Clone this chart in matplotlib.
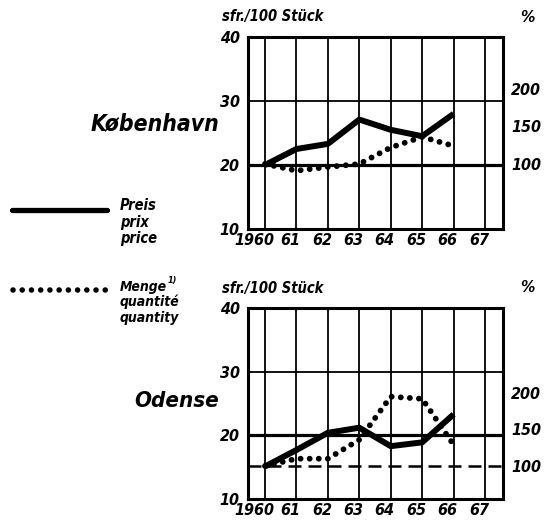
import matplotlib
matplotlib.use("Agg")
import matplotlib.pyplot as plt
from matplotlib.lines import Line2D
from matplotlib.transforms import ScaledTranslation

years = [1960, 1961, 1962, 1963, 1964, 1965, 1966]
grid_years = [1960, 1961, 1962, 1963, 1964, 1965, 1966, 1967]
year_labels = ["1960", "61", "62", "63", "64", "65", "66", "67"]
left_ticks = [10, 20, 30, 40]
right_ticks = [100, 150, 200]

kbh_price = [20.0, 22.5, 23.3, 27.1, 25.5, 24.5, 28.0]
kbh_qty = [100, 91, 96, 100, 122, 136, 124]
ode_price = [15.1, 17.7, 20.4, 21.2, 18.3, 18.9, 23.3]
ode_qty = [100, 110, 110, 136, 195, 192, 129]

FONT = dict(family="DejaVu Sans", weight="bold", style="italic", stretch="condensed")

fig = plt.figure(figsize=(5.58, 5.24), dpi=100)
W, H = 558, 524
DOTS = (0, (0.01, 1.55))


def make_panel(top_px, bot_px, price, qty, rlim, name, name_y, name_size, dashed):
    left_px, right_px = 248, 503
    ax = fig.add_axes([left_px / W, 1 - bot_px / H, (right_px - left_px) / W, (bot_px - top_px) / H])
    ax.set_xlim(1959.46, 1967.57)
    ax.set_ylim(10, 40)
    for y in grid_years:
        ax.axvline(y, color="black", lw=1.3, zorder=1)
    ax.axhline(30, color="black", lw=1.3, zorder=1)
    ax.axhline(20, color="black", lw=2.3, zorder=1)
    for s in ax.spines.values():
        s.set_linewidth(2.2)
    ax.set_xticks(grid_years)
    ax.set_xticklabels(year_labels, fontsize=11.5, **FONT)
    ax.set_yticks(left_ticks)
    ax.set_yticklabels([str(v) for v in left_ticks], fontsize=11.5, **FONT)
    ax.tick_params(length=0, pad=6)
    ax.tick_params(axis="x", pad=3)
    for i, lab in enumerate(ax.get_xticklabels()):
        dx = -11 if i == 0 else -6
        lab.set_transform(lab.get_transform() + ScaledTranslation(dx / 100, 0, fig.dpi_scale_trans))

    ax2 = ax.twinx()
    ax2.set_ylim(*rlim)
    ax2.set_yticks(right_ticks)
    ax2.set_yticklabels([str(v) for v in right_ticks], fontsize=11.5, **FONT)
    ax2.tick_params(length=0, pad=6)
    for s in ax2.spines.values():
        s.set_visible(False)
    if dashed:
        ax2.axhline(100, color="black", lw=1.8, linestyle=(0, (5.2, 2.8)), zorder=1)

    ax2.plot(years, qty, color="black", lw=4.2, linestyle=DOTS,
             dash_capstyle="round", zorder=3)
    ax2.plot(years, price, color="black", lw=4.3, solid_capstyle="butt",
             solid_joinstyle="round", zorder=4, transform=ax.transData)

    fig.text(222 / W, 1 - (top_px - 20) / H, "sfr./100 Stück", fontsize=10.5,
             ha="left", va="center", **FONT)
    fig.text(527 / W, 1 - (top_px - 20) / H, "%", fontsize=11.5, ha="center", va="center", **FONT)
    fig.text(219 / W, 1 - name_y / H, name, fontsize=name_size, ha="right", va="center", **FONT)
    return ax


make_panel(37, 229, kbh_price, kbh_qty, (13.3, 269.3), "København", 124, 16.5, False)
make_panel(308, 499, ode_price, ode_qty, (54.8, 316.4), "Odense", 401, 16, True)

# legend
fig.add_artist(Line2D([12 / W, 107 / W], [1 - 210 / H, 1 - 210 / H], color="black",
                      lw=3.8, solid_capstyle="round", transform=fig.transFigure))
fig.add_artist(Line2D([13 / W, 106 / W], [1 - 290 / H, 1 - 290 / H], color="black",
                      lw=4.0, linestyle=(0, (0.01, 1.65)), dash_capstyle="round",
                      transform=fig.transFigure))
for txt, y in [("Preis", 205), ("prix", 222), ("price", 239)]:
    fig.text(120 / W, 1 - y / H, txt, fontsize=10.5, ha="left", va="center", **FONT)
for txt, y in [("Menge", 287), ("quantité", 302), ("quantity", 318)]:
    fig.text(120 / W, 1 - y / H, txt, fontsize=10, ha="left", va="center", **FONT)
fig.text(168 / W, 1 - 281 / H, "1)", fontsize=6.5, ha="left", va="center", **FONT)

fig.savefig("out.png", dpi=100)
